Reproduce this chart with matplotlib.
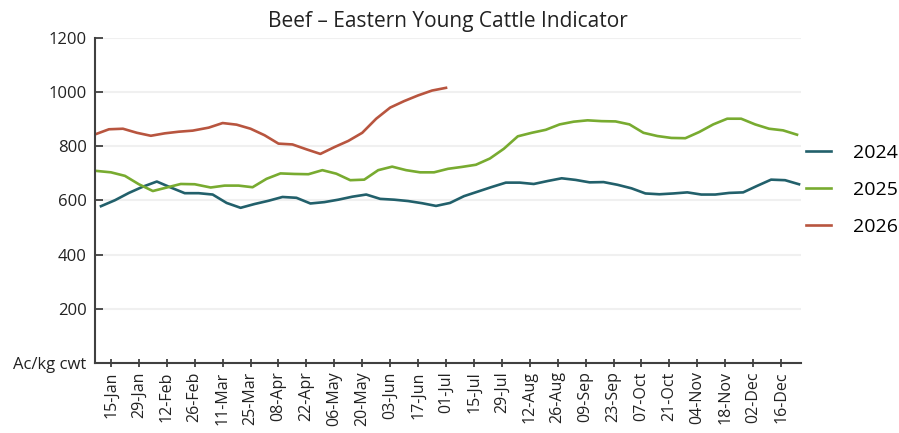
import numpy as np
import pandas as pd
import matplotlib
matplotlib.use('Agg')
import matplotlib.pyplot as plt

# weekly indicator, c/kg cwt
v2024 = [579, 601, 628, 651, 670, 648, 627, 627, 622, 591, 573, 587, 599,
         613, 610, 589, 594, 603, 614, 622, 606, 603, 598, 590, 580, 591,
         616, 633, 650, 666, 666, 661, 672, 682, 676, 667, 668, 658, 645,
         626, 623, 626, 630, 622, 622, 628, 630, 654, 677, 675, 660]
v2025 = [709, 704, 691, 660, 635, 648, 661, 660, 648, 655, 655, 649, 680,
         700, 698, 697, 712, 699, 675, 677, 712, 725, 712, 704, 704, 717,
         724, 732, 755, 791, 837, 850, 861, 881, 891, 896, 893, 892, 881,
         850, 838, 831, 830, 853, 881, 902, 902, 881, 865, 859, 843]
v2026 = [844, 863, 865, 850, 839, 848, 854, 858, 869, 886, 880, 865, 841,
         810, 807, 789, 772, 797, 820, 850, 902, 943, 967, 988, 1006, 1016]

first_wed = {'2024': '2024-01-10', '2025': '2025-01-08', '2026': '2026-01-07'}
colors = {'2024': '#22606b', '2025': '#78ab30', '2026': '#b8553f'}
tick_labels = ['15-Jan', '29-Jan', '12-Feb', '26-Feb', '11-Mar', '25-Mar', '08-Apr',
               '22-Apr', '06-May', '20-May', '03-Jun', '17-Jun', '01-Jul', '15-Jul',
               '29-Jul', '12-Aug', '26-Aug', '09-Sep', '23-Sep', '07-Oct', '21-Oct',
               '04-Nov', '18-Nov', '02-Dec', '16-Dec']

plt.rcParams['font.family'] = ['Open Sans', 'DejaVu Sans']

fig = plt.figure(figsize=(8.99, 4.33), dpi=100)
ax = fig.add_axes([95/899, 1 - 363/433, (801 - 95)/899, (363 - 38)/433])


def to_2024(start, n):
    # put every year on the 2024 calendar so the seasons line up
    d = pd.date_range(start, periods=n, freq='7D')
    return pd.to_datetime(['2024-' + x.strftime('%m-%d') for x in d])


series = {'2024': v2024, '2025': v2025, '2026': v2026}
for yr, vals in series.items():
    ax.plot(to_2024(first_wed[yr], len(vals)), vals, color=colors[yr], lw=1.9, label=yr)

ticks = pd.date_range('2024-01-15', periods=len(tick_labels), freq='14D')
ax.set_xticks(ticks)
ax.set_xticklabels(tick_labels, rotation=90, fontsize=11.5, color='#222222')
ax.set_xlim(pd.Timestamp('2024-01-07'), pd.Timestamp('2024-12-26'))

ax.set_ylim(0, 1200)
ax.set_yticks(np.arange(0, 1201, 200))
ax.set_yticklabels(['Ac/kg cwt'] + [str(v) for v in range(200, 1201, 200)],
                   fontsize=12, color='#222222')
ax.yaxis.grid(True, color='#f0f0f0', lw=1.5)
ax.set_axisbelow(True)

for s in ['top', 'right']:
    ax.spines[s].set_visible(False)
for s in ['left', 'bottom']:
    ax.spines[s].set_color('#404040')
    ax.spines[s].set_linewidth(1.5)
ax.tick_params(axis='x', direction='inout', length=6, width=1.3, color='#404040', pad=3)
ax.tick_params(axis='y', direction='in', length=6, width=1.3, color='#404040', pad=6)

ax.set_title('Beef – Eastern Young Cattle Indicator', fontsize=15, color='#222222', pad=8)

fig.legend(loc='center left', bbox_to_anchor=(806/899, 1 - 190/433), frameon=False,
           fontsize=14, handlelength=1.3, handletextpad=1.1, labelspacing=0.98,
           borderpad=0, borderaxespad=0)

fig.savefig('out.png', dpi=100)
